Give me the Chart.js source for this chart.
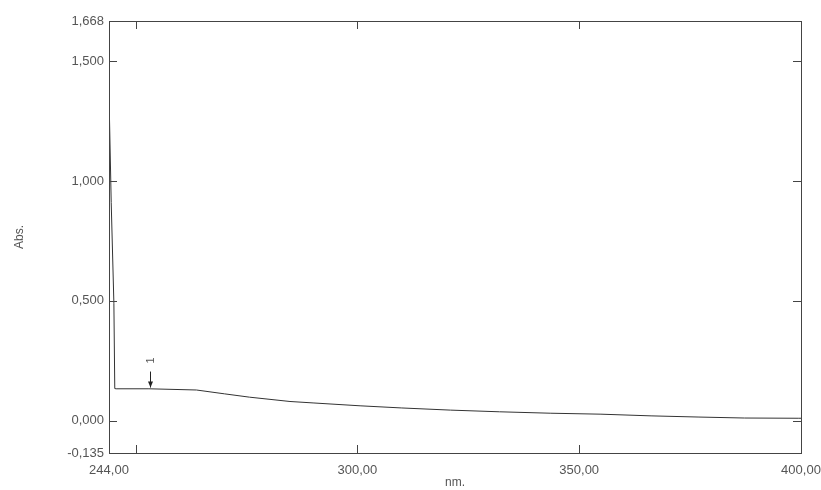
<!DOCTYPE html>
<html>
<head>
<meta charset="utf-8">
<script src="https://cdn.jsdelivr.net/npm/chart.js@4.4.1/dist/chart.umd.min.js"></script>
<style>
  html, body { margin: 0; padding: 0; background: #fff; }
  #wrap { width: 821px; height: 490px; }
</style>
</head>
<body>
<div id="wrap"><canvas id="myChart" width="821" height="490"></canvas></div>
<script>
// spectrum (nm / Abs.)
const wavelength = [244, 244.5, 245.1, 245.3, 245.6, 253, 263.7, 270, 275.7, 284.8, 290, 300.6, 310, 321, 332, 343.6, 354.9, 366.2, 377, 387.3, 399.5, 400];
const absorbance = [1.36, 0.91, 0.49, 0.134, 0.133, 0.133, 0.128, 0.112, 0.098, 0.080, 0.074, 0.062, 0.053, 0.044, 0.037, 0.031, 0.027, 0.020, 0.015, 0.011, 0.010, 0.010];

const xTicks = [244, 250, 300, 350, 400];
const xTickLabels = ['244,00', '', '300,00', '350,00', '400,00'];
const yTicks = [-0.135, 0, 0.5, 1.0, 1.5, 1.668];
const yTickLabels = ['-0,135', '0,000', '0,500', '1,000', '1,500', '1,668'];

// peak marker "1"
const peakNm = [253.3];
const peakAbs = [0.134];
const peakLabels = ['1'];

const chart = document.getElementById('myChart');
const axisColor = '#444';
const textColor = '#555';
const tickLen = 8;

const marcoPlugin = {
  id: 'marco',
  afterDraw: (c) => {
    const ctx = c.ctx;
    const a = c.chartArea;
    const sx = c.scales.x;
    const sy = c.scales.y;
    ctx.save();
    ctx.strokeStyle = axisColor;
    ctx.lineWidth = 1;
    ctx.strokeRect(Math.round(a.left) + 0.5, Math.round(a.top) + 0.5, Math.round(a.right - a.left), Math.round(a.bottom - a.top));

    ctx.beginPath();
    xTicks.slice(1, -1).forEach((v) => {
      const px = Math.round(sx.getPixelForValue(v)) + 0.5;
      ctx.moveTo(px, a.bottom);
      ctx.lineTo(px, a.bottom - tickLen);
      ctx.moveTo(px, a.top);
      ctx.lineTo(px, a.top + tickLen);
    });
    yTicks.slice(1, -1).forEach((v) => {
      const py = Math.round(sy.getPixelForValue(v)) + 0.5;
      ctx.moveTo(a.left, py);
      ctx.lineTo(a.left + tickLen, py);
      ctx.moveTo(a.right, py);
      ctx.lineTo(a.right - tickLen, py);
    });
    ctx.stroke();

    // flecha del pico
    peakNm.forEach((nm, i) => {
      const px = Math.round(sx.getPixelForValue(nm)) + 0.5;
      const tip = sy.getPixelForValue(peakAbs[i]) - 1;
      ctx.strokeStyle = '#222';
      ctx.beginPath();
      ctx.moveTo(px, tip - 16);
      ctx.lineTo(px, tip);
      ctx.stroke();
      ctx.fillStyle = '#222';
      ctx.beginPath();
      ctx.moveTo(px, tip);
      ctx.lineTo(px - 2.5, tip - 6);
      ctx.lineTo(px + 2.5, tip - 6);
      ctx.closePath();
      ctx.fill();
      ctx.save();
      ctx.translate(px, tip - 27);
      ctx.rotate(-Math.PI / 2);
      ctx.fillStyle = textColor;
      ctx.font = '11px "Liberation Sans", Arial, sans-serif';
      ctx.textAlign = 'center';
      ctx.textBaseline = 'middle';
      ctx.fillText(peakLabels[i], 0, 0);
      ctx.restore();
    });
    ctx.restore();
  }
};

const datos = wavelength.map((nm, i) => ({ x: nm, y: absorbance[i] }));

const config = {
  type: 'line',
  data: {
    datasets: [{
      label: 'Abs.',
      data: datos,
      borderColor: '#333',
      borderWidth: 1,
      pointRadius: 0,
      tension: 0,
      fill: false
    }]
  },
  options: {
    responsive: false,
    animation: false,
    layout: { padding: { top: 21, right: 20, left: 0, bottom: 0 } },
    plugins: { legend: { display: false }, tooltip: { enabled: false } },
    scales: {
      x: {
        type: 'linear',
        min: 244,
        max: 400,
        afterBuildTicks: (s) => { s.ticks = xTicks.map((v) => ({ value: v })); },
        afterFit: (s) => { s.height = 37; s.paddingLeft = 0; s.paddingRight = 0; },
        grid: { display: false, drawTicks: false },
        border: { display: false },
        ticks: {
          autoSkip: false,
          maxRotation: 0,
          padding: 10,
          color: textColor,
          font: { family: '"Liberation Sans", Arial, sans-serif', size: 13 },
          callback: (v) => xTickLabels[xTicks.indexOf(v)]
        },
        title: {
          display: true,
          text: 'nm.',
          color: textColor,
          font: { family: '"Liberation Sans", Arial, sans-serif', size: 12 },
          padding: { top: 0, bottom: 0 }
        }
      },
      y: {
        type: 'linear',
        min: -0.135,
        max: 1.668,
        afterBuildTicks: (s) => { s.ticks = yTicks.map((v) => ({ value: v })); },
        afterFit: (s) => { s.width = 109; s.paddingTop = 0; s.paddingBottom = 0; },
        grid: { display: false, drawTicks: false },
        border: { display: false },
        ticks: {
          autoSkip: false,
          padding: 5,
          color: textColor,
          font: { family: '"Liberation Sans", Arial, sans-serif', size: 13 },
          callback: (v) => yTickLabels[yTicks.indexOf(v)]
        },
        title: {
          display: true,
          text: 'Abs.',
          color: textColor,
          font: { family: '"Liberation Sans", Arial, sans-serif', size: 12 },
          padding: { top: 12, bottom: 0 }
        }
      }
    }
  },
  plugins: [marcoPlugin]
};

const myChart = new Chart(chart, config);
</script>
</body>
</html>
